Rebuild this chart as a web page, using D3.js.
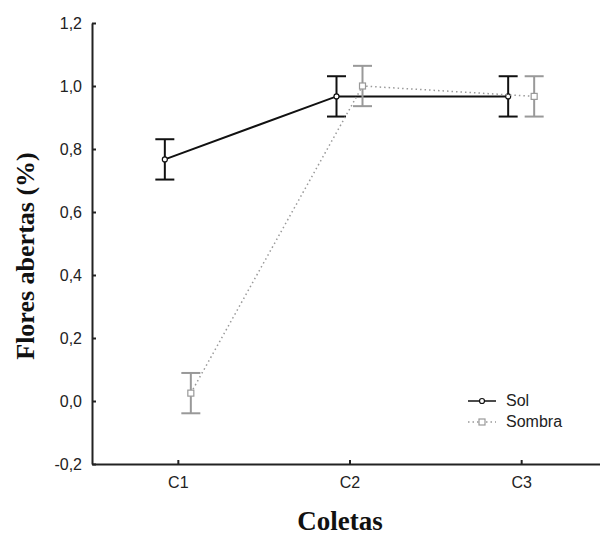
<!DOCTYPE html>
<html>
<head>
<meta charset="utf-8">
<script src="https://cdn.jsdelivr.net/npm/d3@7"></script>
<style>
  body { margin: 0; background: #fff; }
  .axis path, .axis line { stroke: #222; stroke-width: 2; }
  .axis text { font-family: "Liberation Sans", Arial, sans-serif; font-size: 16px; fill: #222; }
  .title { font-family: "Liberation Serif", "Times New Roman", serif; font-weight: bold; fill: #111; }
  .legend text { font-family: "Liberation Sans", Arial, sans-serif; font-size: 16px; fill: #222; }
</style>
</head>
<body>
<div id="chart"></div>
<script>
// data
var categories = ["C1", "C2", "C3"];
var solMean = [0.767, 0.967, 0.967];
var solErr = [0.064, 0.064, 0.064];
var sombraMean = [0.025, 1.0, 0.967];
var sombraErr = [0.064, 0.064, 0.064];
var yTicks = [-0.2, 0, 0.2, 0.4, 0.6, 0.8, 1.0, 1.2];

var width = 600, height = 538;

var svg = d3.select("#chart").append("svg")
    .attr("width", width)
    .attr("height", height);

// scales
var xScale = d3.scalePoint()
    .domain(categories)
    .range([92, 607])
    .padding(0.5);

var yScale = d3.scaleLinear()
    .domain([-0.2, 1.2])
    .range([464, 23]);

// comma decimals, plain hyphen for negatives
var fmt = function(d) { return d.toFixed(1).replace(".", ","); };

// axes, ticks drawn inward
svg.append("g")
    .attr("class", "x axis")
    .attr("transform", "translate(0,464)")
    .call(d3.axisBottom(xScale).tickSizeInner(-4).tickSizeOuter(0).tickPadding(13));

svg.append("g")
    .attr("class", "y axis")
    .attr("transform", "translate(92,0)")
    .call(d3.axisLeft(yScale).tickValues(yTicks).tickFormat(fmt)
      .tickSizeInner(-4).tickSizeOuter(0).tickPadding(10));

// series
var series = [
  {name: "Sol", mean: solMean, err: solErr, dx: -13, color: "#111", dash: null, width: 2},
  {name: "Sombra", mean: sombraMean, err: sombraErr, dx: 13, color: "#999", dash: "1.5,3", width: 1.5}
];

var line = d3.line()
    .x(function(d) { return d.x; })
    .y(function(d) { return yScale(d.y); });

series.forEach(function(s) {
  var pts = categories.map(function(c, i) {
    return {x: xScale(c) + s.dx, y: s.mean[i], e: s.err[i]};
  });

  svg.append("path")
      .datum(pts)
      .attr("fill", "none")
      .attr("stroke", s.color)
      .attr("stroke-width", s.width)
      .attr("stroke-dasharray", s.dash)
      .attr("d", line);

  var bars = svg.append("g").selectAll("g")
      .data(pts)
    .enter().append("g")
      .attr("stroke", s.color)
      .attr("stroke-width", 2);

  bars.append("line")
      .attr("x1", function(d) { return d.x; })
      .attr("x2", function(d) { return d.x; })
      .attr("y1", function(d) { return yScale(d.y + d.e); })
      .attr("y2", function(d) { return yScale(d.y - d.e); });

  [1, -1].forEach(function(sign) {
    bars.append("line")
        .attr("x1", function(d) { return d.x - 9.5; })
        .attr("x2", function(d) { return d.x + 9.5; })
        .attr("y1", function(d) { return yScale(d.y + sign * d.e); })
        .attr("y2", function(d) { return yScale(d.y + sign * d.e); });
  });

  // markers
  if (s.name === "Sol") {
    svg.append("g").selectAll("circle")
        .data(pts)
      .enter().append("circle")
        .attr("cx", function(d) { return d.x; })
        .attr("cy", function(d) { return yScale(d.y); })
        .attr("r", 2.5)
        .attr("fill", "#fff")
        .attr("stroke", s.color)
        .attr("stroke-width", 1.2);
  } else {
    svg.append("g").selectAll("rect")
        .data(pts)
      .enter().append("rect")
        .attr("x", function(d) { return d.x - 3; })
        .attr("y", function(d) { return yScale(d.y) - 3; })
        .attr("width", 6)
        .attr("height", 6)
        .attr("fill", "#fff")
        .attr("stroke", s.color)
        .attr("stroke-width", 1.2);
  }
});

// legend
var legend = svg.append("g").attr("class", "legend");
series.forEach(function(s, i) {
  var ly = 401 + i * 21;
  legend.append("line")
      .attr("x1", 468).attr("x2", 496)
      .attr("y1", ly).attr("y2", ly)
      .attr("stroke", s.color)
      .attr("stroke-width", 1.5)
      .attr("stroke-dasharray", s.dash);
  if (s.name === "Sol") {
    legend.append("circle").attr("cx", 482).attr("cy", ly).attr("r", 2.5)
        .attr("fill", "#fff").attr("stroke", s.color).attr("stroke-width", 1.2);
  } else {
    legend.append("rect").attr("x", 479).attr("y", ly - 3).attr("width", 6).attr("height", 6)
        .attr("fill", "#fff").attr("stroke", s.color).attr("stroke-width", 1.2);
  }
  legend.append("text")
      .attr("x", 506)
      .attr("y", ly + 5)
      .text(s.name);
});

// titles
svg.append("text")
    .attr("class", "title")
    .attr("transform", "translate(34,256) rotate(-90)")
    .attr("text-anchor", "middle")
    .style("font-size", "26px")
    .text("Flores abertas (%)");

svg.append("text")
    .attr("class", "title")
    .attr("x", 340)
    .attr("y", 530)
    .attr("text-anchor", "middle")
    .style("font-size", "27px")
    .text("Coletas");
</script>
</body>
</html>
